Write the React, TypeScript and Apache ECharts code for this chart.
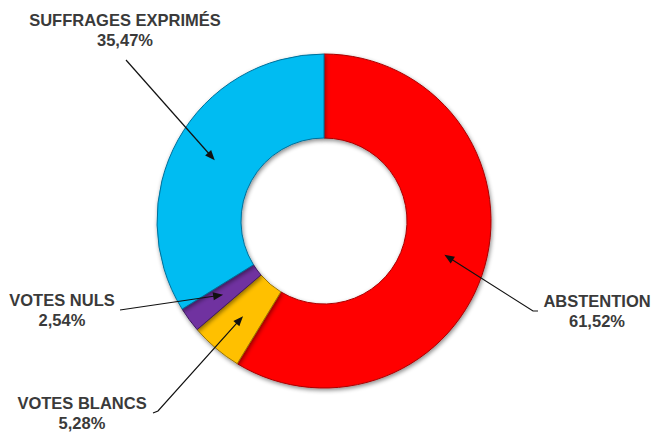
import React, { useEffect, useRef } from "react";
import * as echarts from "echarts";

const categories = ["ABSTENTION", "VOTES BLANCS", "VOTES NULS", "SUFFRAGES EXPRIMÉS"];
const values = [61.52, 5.28, 2.54, 35.47];
const colors = ["#ff0000", "#ffc000", "#7030a0", "#00bcf2"];
const borderColors = ["#a80000", "#9a7400", "#3f1a60", "#00709a"];

// label centres (layout)
const labelX = [597, 82, 62, 125];
const labelY = [311, 413, 310, 30];
// arrow tails (layout), arrow tips come from slice geometry
const arrowTails: number[][][] = [
  [[538, 311], [533, 311]],
  [[153, 413], [158, 411]],
  [[120, 310]],
  [[126, 60]],
];

const CX = 324;
const CY = 221;
const R_IN = 83;
const R_OUT = 167;

export default function App() {
  const ref = useRef<HTMLDivElement>(null);
  useEffect(() => {
    if (!ref.current) return;
    document.body.style.margin = "0";
    const chart = echarts.init(ref.current, undefined, { renderer: "svg" });
    const total = values.reduce((a, b) => a + b, 0);
    let acc = 0;
    const tips = values.map((v) => {
      const mid = ((acc + v / 2) / total) * Math.PI * 2;
      acc += v;
      const r = (R_IN + R_OUT) / 2;
      return [CX + r * Math.sin(mid), CY - r * Math.cos(mid)];
    });
    const graphics: any[] = [];
    tips.forEach((tip, i) => {
      const pts = [...arrowTails[i], tip];
      const prev = pts[pts.length - 2];
      const dx = tip[0] - prev[0];
      const dy = tip[1] - prev[1];
      const len = Math.sqrt(dx * dx + dy * dy);
      const ux = dx / len;
      const uy = dy / len;
      const L = 10;
      const W = 4;
      const bx = tip[0] - ux * L;
      const by = tip[1] - uy * L;
      graphics.push({
        type: "polyline",
        shape: { points: [...arrowTails[i], [bx + ux * 2, by + uy * 2]] },
        style: { stroke: "#111", lineWidth: 1.2, fill: null },
        z: 10,
      });
      graphics.push({
        type: "polygon",
        shape: {
          points: [
            tip,
            [bx - uy * W, by + ux * W],
            [bx + uy * W, by - ux * W],
          ],
        },
        style: { fill: "#111" },
        z: 10,
      });
    });
    chart.setOption({
      animation: false,
      backgroundColor: "#ffffff",
      graphic: graphics,
      series: [
        {
          type: "pie",
          center: [CX, CY],
          radius: [R_IN, R_OUT],
          startAngle: 90,
          clockwise: true,
          avoidLabelOverlap: false,
          data: categories.map((c, i) => ({
            name: c,
            value: values[i],
            itemStyle: {
              color: colors[i],
              borderColor: borderColors[i],
              borderWidth: 1,
              shadowBlur: 4,
              shadowColor: "rgba(0,0,0,0.45)",
              shadowOffsetX: 1,
              shadowOffsetY: 2,
            },
          })),
          label: {
            show: true,
            position: "outside",
            overflow: "none",
            formatter: (p: any) =>
              p.name + "\n" + values[p.dataIndex].toFixed(2).replace(".", ",") + "%",
            color: "#3a3a3a",
            fontFamily: "Liberation Sans, Arial, sans-serif",
            fontWeight: "bold",
            fontSize: 16.5,
            lineHeight: 19.5,
            align: "center",
          },
          labelLine: { show: false },
          labelLayout: (p: any) => ({
            x: labelX[p.dataIndex],
            y: labelY[p.dataIndex],
            align: "center",
            verticalAlign: "middle",
          }),
          emphasis: { disabled: true },
        },
      ],
    });
    return () => chart.dispose();
  }, []);
  return <div ref={ref} style={{ width: 653, height: 432 }} />;
}
